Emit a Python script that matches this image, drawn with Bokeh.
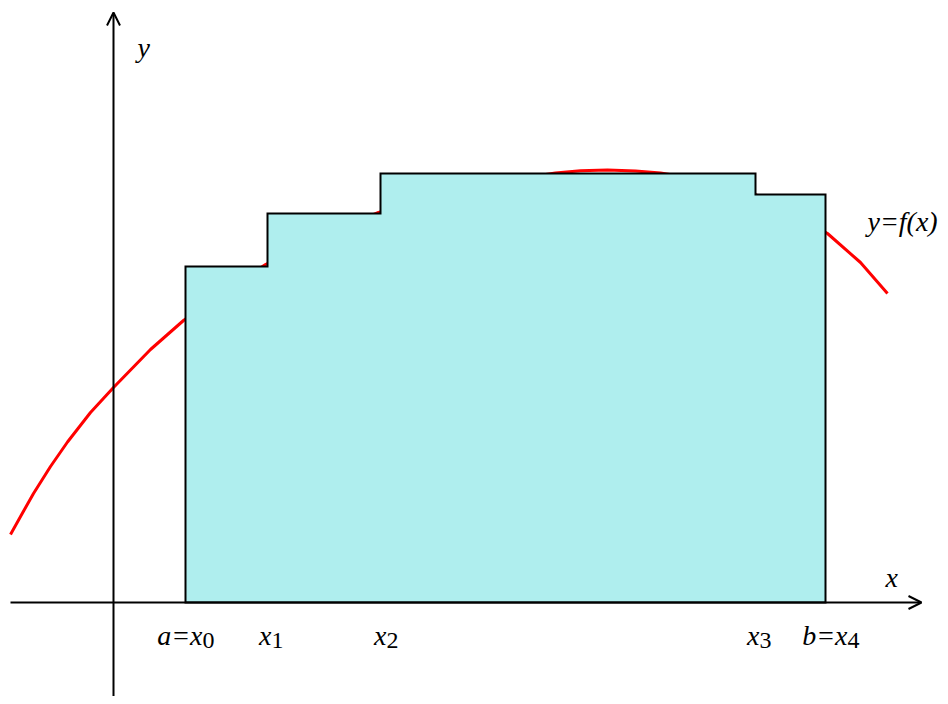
from bokeh.plotting import figure
from bokeh.models import Range1d, Arrow, OpenHead, ColumnDataSource
from bokeh.core.properties import value
from bokeh.embed import file_html
from bokeh.resources import INLINE

# partition points a=x0 < x1 < x2 < x3 < x4=b and the step heights on each sub-interval
part_x = [0.72, 1.54, 2.67, 6.42, 7.12]
step_h = [3.36, 3.89, 4.29, 4.08]
labels_main = ["a=x", "x", "x", "x", "b=x"]
labels_sub = ["0", "1", "2", "3", "4"]

# the curve y = f(x)
curve_x = [-1.03, -0.91, -0.80, -0.63, -0.46, -0.23, 0.00, 0.37, 0.70, 1.12,
           1.52, 2.07, 2.65, 3.27, 3.87, 4.42, 4.67, 4.94, 5.22, 5.47,
           5.87, 6.17, 6.42, 6.77, 7.14, 7.47, 7.74]
curve_y = [0.68, 0.895, 1.09, 1.36, 1.605, 1.90, 2.15, 2.53, 2.82, 3.12,
           3.38, 3.66, 3.90, 4.075, 4.21, 4.295, 4.317, 4.325, 4.316, 4.294,
           4.23, 4.17, 4.08, 3.92, 3.69, 3.40, 3.09]

# axis extents
x_axis = (-1.03, 8.08)
y_axis = (-1.02, 5.90)

FONT = "Liberation Serif"

p = figure(width=940, height=696,
           x_range=Range1d(-1.13, 8.27), y_range=Range1d(-0.94, 6.02),
           output_backend="svg", toolbar_location=None, min_border=0,
           x_axis_location=None, y_axis_location=None)
p.grid.visible = False
p.outline_line_color = None
p.background_fill_color = "white"

# curve (behind the rectangles)
p.line(curve_x, curve_y, line_color="#ff0000", line_width=3, line_join="round")

# step region
px, py = [part_x[0]], [0.0]
for i, h in enumerate(step_h):
    px += [part_x[i], part_x[i + 1]]
    py += [h, h]
px.append(part_x[-1])
py.append(0.0)
p.patch(px, py, fill_color="#AFEEEE", line_color="black", line_width=2,
        line_join="miter")

# axes with arrows
p.add_layout(Arrow(end=OpenHead(size=13, line_width=2, line_color="black"),
                   x_start=x_axis[0], y_start=0, x_end=x_axis[1], y_end=0,
                   line_width=2, line_color="black"))
p.add_layout(Arrow(end=OpenHead(size=13, line_width=2, line_color="black"),
                   x_start=0, y_start=y_axis[0], x_end=0, y_end=y_axis[1],
                   line_width=2, line_color="black"))

# partition labels
label_shift = [0.17, 0.04, 0.06, 0.04, 0.22]
junction = [x + s for x, s in zip(part_x, label_shift)]
src = ColumnDataSource(dict(x=junction, main=labels_main, sub=labels_sub,
                            y=[-0.33] * 5, ys=[-0.38] * 5))
p.text(x="x", y="y", text="main", source=src, text_font=value(FONT),
       text_font_style="italic", text_font_size="28px", text_align="right",
       text_baseline="alphabetic", text_color="black")
p.text(x="x", y="ys", text="sub", source=src, text_font=value(FONT),
       text_font_size="24px", text_align="left",
       text_baseline="alphabetic", text_color="black")

# axis / curve labels
p.text(x=[0.24, 7.72, 7.54], y=[5.55, 0.25, 3.81], text=["y", "x", "y=f(x)"],
       text_font=value(FONT), text_font_style="italic", text_font_size="28px",
       text_align="left", text_baseline="alphabetic", text_color="black")

open("out.html", "w").write(file_html(p, INLINE))
